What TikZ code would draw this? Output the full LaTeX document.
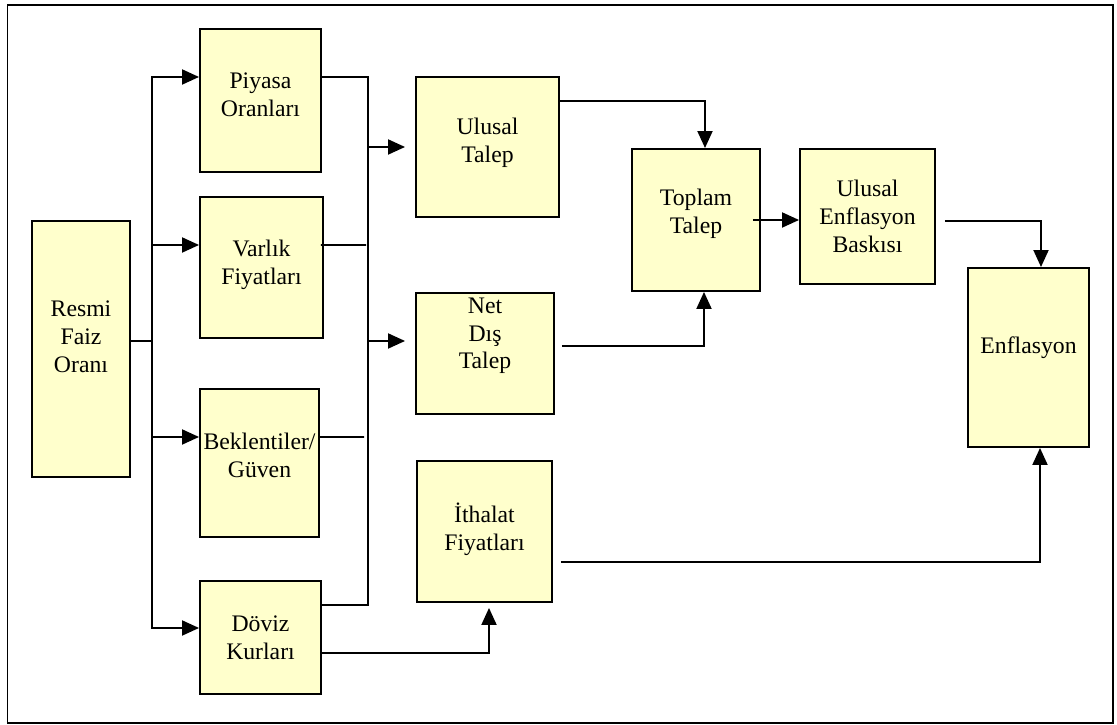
\documentclass[tikz,border=0pt]{standalone}
\usepackage{fontspec}
\setmainfont{Liberation Serif}
\usepackage{tikz}
\usetikzlibrary{arrows.meta}
\definecolor{boxfill}{HTML}{FFFFCC}

\begin{document}
\begin{tikzpicture}[line width=1.1pt,>={Triangle[length=0.34cm,width=0.3cm]}]
	\def \trunk{3.04}
	\def \collect{7.36}
	\tikzstyle{box}=[rectangle,draw=black!100,fill=boxfill,line width=1.1pt,inner sep=1pt,align=center,font=\fontsize{13.5}{15.9}\selectfont]
	\useasboundingbox (0,0) rectangle (22.34,14.5);
	% outer frame
	\draw[line width=0.8pt] (0.15,0.04) rectangle (22.26,14.4);
	
	% first column
	\node[box,minimum width=1.96cm,minimum height=5.12cm,text depth=14pt] (resmi) at (1.62,7.52) {Resmi\\Faiz\\Oranı};
	
	% second column
	\node[box,minimum width=2.42cm,minimum height=2.86cm,text depth=7pt] 	(piyasa)	at (5.21,12.49)	{Piyasa\\Oranları};
	\node[box,minimum width=2.46cm,minimum height=2.82cm,text depth=6pt] 	(varlik)	at (5.23,9.15)	{Varlık\\Fiyatları};
	\node[box,minimum width=2.38cm,minimum height=2.96cm,text depth=9pt] 	(beklenti)	at (5.19,5.24)	{Beklentiler/\\Güven};
	\node[box,minimum width=2.42cm,minimum height=2.26cm] 			(doviz)		at (5.21,1.75)	{Döviz\\Kurları};
	
	% third column
	\node[box,minimum width=2.86cm,minimum height=2.80cm,text depth=8pt] 	(ulusal)	at (9.75,11.56)	{Ulusal\\Talep};
	\node[box,minimum width=2.76cm,minimum height=2.42cm,text depth=23pt] 	(net)		at (9.70,7.43)	{Net\\Dış\\Talep};
	\node[box,minimum width=2.70cm,minimum height=2.82cm,text depth=5pt] 	(ithalat)	at (9.69,3.87)	{İthalat\\Fiyatları};
	
	% right part
	\node[box,minimum width=2.56cm,minimum height=2.84cm,text depth=10pt] 	(toplam)	at (13.92,10.10)	{Toplam\\Talep};
	\node[box,minimum width=2.70cm,minimum height=2.70cm] 			(ueb)		at (17.35,10.17)	{Ulusal\\Enflasyon\\Baskısı};
	\node[box,minimum width=2.42cm,minimum height=3.58cm,text depth=14pt] 	(enflasyon)	at (20.57,7.35)	{Enflasyon};
	
	% branching from the policy rate
	\coordinate (split) at (\trunk,7.68);
	\draw (resmi.east |- split) -- (split);
	\draw[->] (split) |- ([yshift=0.47cm]piyasa.west);
	\draw[->] (split) |- ([yshift=0.45cm]varlik.west);
	\draw[->] (split) |- ([yshift=0.52cm]beklenti.west);
	\draw[->] (split) |- ([yshift=0.19cm]doviz.west);
	
	% collecting line
	\coordinate (colltop) at (\collect,12.96);
	\coordinate (collbot) at (\collect,2.40);
	\coordinate (varend) at (7.32,9.60);
	\coordinate (bekend) at (7.28,5.76);
	\draw ([yshift=0.47cm]piyasa.east) -- (colltop) -- (collbot) -- ([yshift=0.65cm]doviz.east);
	\draw ([xshift=-0.06cm,yshift=0.45cm]varlik.east) -- (varend);
	\draw ([yshift=0.52cm]beklenti.east) -- (bekend);
	\draw[->,shorten >=0.2cm] (ulusal.west -| colltop) -- (ulusal.west);
	\draw[->,shorten >=0.2cm] (split -| colltop) -- (split -| net.west);
	
	% exchange rates to import prices
	\draw[->,shorten >=0.1cm] ([yshift=-0.31cm]doviz.east) -| ([xshift=0.09cm]ithalat.south);
	
	% demand
	\draw[->] ([yshift=0.92cm]ulusal.east) -| ([xshift=0.18cm]toplam.north);
	\draw[->] ([xshift=0.14cm,yshift=0.15cm]net.east) -| ([xshift=0.16cm]toplam.south);
	\draw[->] ([xshift=-0.16cm]toplam.east) -- (toplam.east -| ueb.west);
	
	% inflation
	\draw[->] ([xshift=0.18cm,yshift=-0.09cm]ueb.east) -| ([xshift=0.25cm]enflasyon.north);
	\draw[->] ([xshift=0.16cm,yshift=-0.61cm]ithalat.east) -| ([xshift=0.23cm]enflasyon.south);
\end{tikzpicture}
\end{document}
